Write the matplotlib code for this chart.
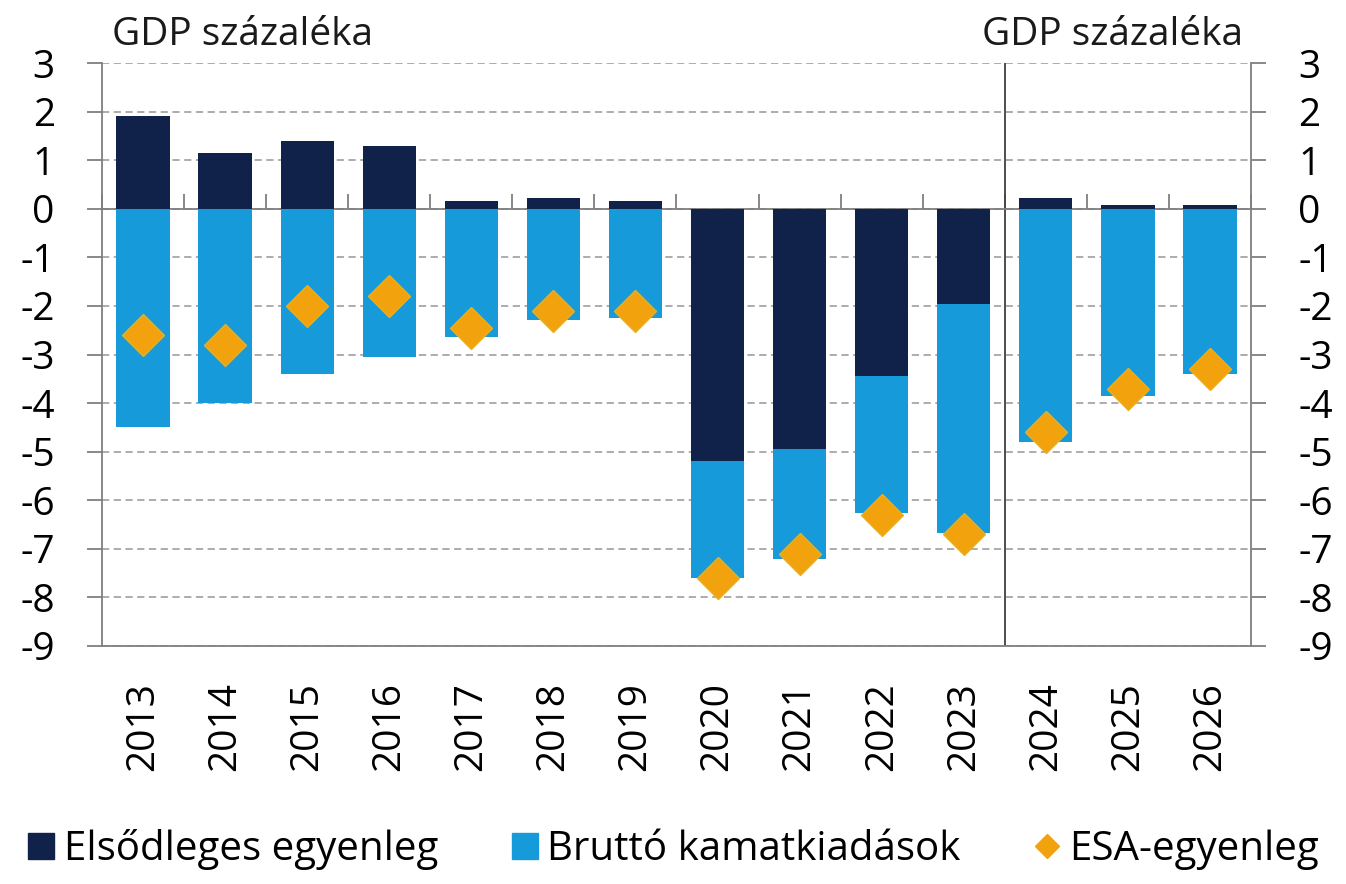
import matplotlib
matplotlib.use("Agg")
import matplotlib.pyplot as plt
from matplotlib.lines import Line2D
import numpy as np

years = ["2013", "2014", "2015", "2016", "2017", "2018", "2019",
         "2020", "2021", "2022", "2023", "2024", "2025", "2026"]
primary = [1.9, 1.15, 1.4, 1.3, 0.15, 0.22, 0.15, -5.2, -4.95, -3.45, -1.97, 0.22, 0.08, 0.08]
interest = [4.5, 4.0, 3.4, 3.05, 2.65, 2.3, 2.25, 2.4, 2.25, 2.82, 4.7, 4.8, 3.85, 3.4]
esa = [-2.6, -2.8, -2.0, -1.8, -2.45, -2.1, -2.1, -7.6, -7.1, -6.3, -6.7, -4.6, -3.7, -3.3]
yticks = list(range(-9, 4))
series_names = ["Elsődleges egyenleg", "Bruttó kamatkiadások", "ESA-egyenleg"]
unit_label = "GDP százaléka"

NAVY = "#10224a"
BLUE = "#179ad9"
ORANGE = "#f2a20c"
GRID = "#a6a6a6"
AXC = "#7f7f7f"

plt.rcParams['font.family'] = ['Open Sans', 'DejaVu Sans']
FS = 28

fig = plt.figure(figsize=(13.46, 8.84), dpi=100)
ax = fig.add_axes([102/1346, 1-646/884, (1251-102)/1346, (646-63)/884])

x = np.arange(len(years))
prim = np.array(primary)
intr = np.array(interest)
w = 0.65
ax.bar(x, prim, width=w, color=NAVY, zorder=3)
ax.bar(x, -intr, bottom=np.minimum(prim, 0), width=w, color=BLUE, zorder=3)
ax.plot(x, esa, linestyle="none", marker="D", markersize=21, color=ORANGE,
        markeredgecolor="#e8b020", markeredgewidth=1, zorder=4)

ax.set_xlim(-0.5, len(years) - 0.5)
ax.set_ylim(-9, 3)
ax.set_yticks(yticks)
ax.set_yticklabels([str(v) for v in yticks])
ax.yaxis.grid(True, color=GRID, linestyle=(0, (4, 2.5)), linewidth=1.3, zorder=0)
ax.set_axisbelow(True)

ax.tick_params(axis="y", which="both", direction="out", length=11, width=1.3,
               color=AXC, labelsize=FS, left=True, right=True,
               labelleft=True, labelright=True, pad=23)
ax.set_xticks(x)
ax.set_xticklabels(years, rotation=90, fontsize=FS)
ax.tick_params(axis="x", length=0, pad=26)

for s in ["left", "right", "bottom"]:
    ax.spines[s].set_color(AXC)
    ax.spines[s].set_linewidth(1.3)
ax.spines["top"].set_visible(False)

# zero axis line with category-boundary ticks
ax.axhline(0, color=AXC, linewidth=1.3, zorder=2.5)
zero_pos = (0 - (-9)) / 12
sec = ax.secondary_xaxis(zero_pos)
sec.set_xticks(np.arange(len(years) + 1) - 0.5)
sec.set_xticklabels([])
sec.tick_params(axis="x", direction="out", length=11, width=1.3, color=AXC)
for s in ["top", "left", "right", "bottom"]:
    sec.spines[s].set_visible(False)

# divider between actual and forecast
ax.axvline(10.5, color="#404040", linewidth=1.3, zorder=2)

fig.text(112/1346, 1-35/884, unit_label, fontsize=FS, ha="left", va="center", color="#1a1a1a")
fig.text(1243/1346, 1-35/884, unit_label, fontsize=FS, ha="right", va="center", color="#1a1a1a")

handles = [
    Line2D([], [], linestyle="none", marker="s", markersize=19, color=NAVY),
    Line2D([], [], linestyle="none", marker="s", markersize=19, color=BLUE),
    Line2D([], [], linestyle="none", marker="D", markersize=12, color=ORANGE),
]
fig.legend(handles, series_names, loc="center", bbox_to_anchor=(0.5, 1-850/884),
           ncol=3, frameon=False, fontsize=FS + 1, handlelength=0.7, handletextpad=0.2,
           columnspacing=1.8, borderaxespad=0)

fig.savefig("out.png", dpi=100)
